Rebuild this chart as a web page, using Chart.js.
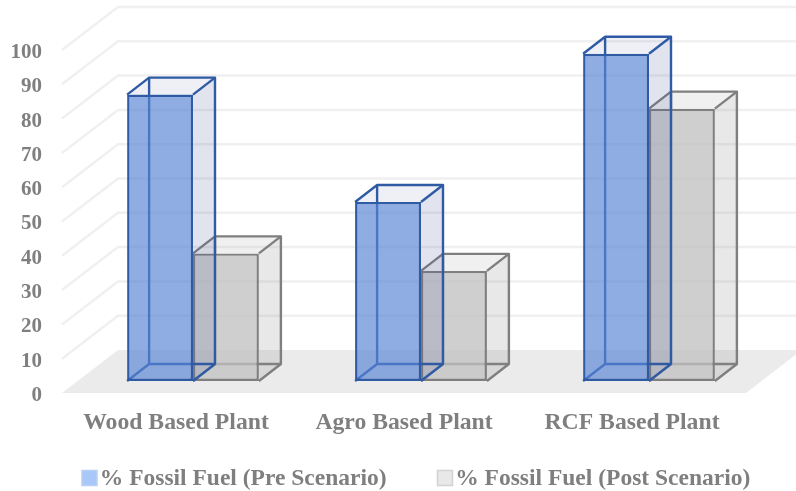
<!DOCTYPE html>
<html>
<head>
<meta charset="utf-8">
<style>html,body{margin:0;padding:0;background:#fff}canvas{display:block}</style>
<script src="https://cdn.jsdelivr.net/npm/chart.js@4/dist/chart.umd.js"></script>
</head>
<body>
<canvas id="c" width="796" height="491"></canvas>
<script>
const categories = ['Wood Based Plant', 'Agro Based Plant', 'RCF Based Plant'];
const preScenario = [83.5, 52.2, 95.4];
const postScenario = [37.2, 32.1, 79.4];
const seriesNames = ['% Fossil Fuel (Pre Scenario)', '% Fossil Fuel (Post Scenario)'];

const SERIF = '"Liberation Serif", serif';
const TICK_FONT = {family: SERIF, size: 21, weight: 'bold'};
const LABEL_FONT = {family: SERIF, size: 23.7, weight: 'bold'};
const LEGEND_FONT = {family: SERIF, size: 23.5, weight: 'bold'};
const INK = '#7f7f7f';
const WALL = {dx: 56, dy: -43};   // depth of the floor and walls
const INSET = {dx: 17, dy: -12};  // how far the bars sit behind the front edge
const BOX = {dx: 22, dy: -17};    // depth of each bar
const EDGE_WIDTH = 2.4;

const faces = [
  {side: 'rgba(70,90,150,0.16)', top: 'rgba(70,90,150,0.09)', edge: '#2f5ba5', swatch: '#a9c8fa', swatchEdge: '#b9d0f5'},
  {side: 'rgba(140,140,140,0.2)', top: 'rgba(140,140,140,0.13)', edge: '#7f7f7f', swatch: '#e8e8e8', swatchEdge: '#d2d2d2'}
];

function poly(ctx, pts, fill, stroke, lw) {
  ctx.beginPath();
  pts.forEach((p, i) => i ? ctx.lineTo(p[0], p[1]) : ctx.moveTo(p[0], p[1]));
  if (fill) { ctx.closePath(); ctx.fillStyle = fill; ctx.fill(); }
  if (stroke) { ctx.strokeStyle = stroke; ctx.lineWidth = lw; ctx.lineJoin = 'round'; ctx.stroke(); }
}

// Perspective room behind the bars: floor plus the gridlines on both walls.
const room = {
  id: 'room',
  beforeDatasetsDraw(chart) {
    const {ctx, chartArea: a, scales: {y}} = chart;
    const y0 = y.getPixelForValue(0);
    poly(ctx, [[a.left, y0], [a.right, y0], [a.right + WALL.dx, y0 + WALL.dy], [a.left + WALL.dx, y0 + WALL.dy]], '#ebebeb');
    y.ticks.forEach(t => {
      if (t.value === 0) return;
      const p = y.getPixelForValue(t.value);
      ctx.beginPath();
      ctx.moveTo(a.left, p);
      ctx.lineTo(a.left + WALL.dx, p + WALL.dy);
      ctx.lineTo(chart.width + 10, p + WALL.dy);
      ctx.strokeStyle = '#f0f0f0';
      ctx.lineWidth = 2.5;
      ctx.stroke();
    });
  }
};

// Extrudes each library-drawn bar into a box: hidden edges go in first, visible faces last.
const boxes = {
  id: 'boxes',
  beforeDatasetDraw(chart, args) {
    const {ctx} = chart;
    const f = faces[args.index];
    ctx.save();
    ctx.translate(INSET.dx, INSET.dy);
    chart.getDatasetMeta(args.index).data.forEach(b => {
      const l = b.x - b.width / 2, r = b.x + b.width / 2;
      const bx = l + BOX.dx, by = b.base + BOX.dy, ty = b.y + BOX.dy;
      poly(ctx, [[bx, ty], [bx, by], [r + BOX.dx, by]], null, f.edge, EDGE_WIDTH);
      poly(ctx, [[l, b.base], [bx, by]], null, f.edge, EDGE_WIDTH);
    });
  },
  afterDatasetDraw(chart, args) {
    const {ctx} = chart;
    const f = faces[args.index];
    chart.getDatasetMeta(args.index).data.forEach(b => {
      const l = b.x - b.width / 2, r = b.x + b.width / 2;
      const rb = r + BOX.dx, by = b.base + BOX.dy, ty = b.y + BOX.dy;
      poly(ctx, [[r, b.y], [rb, ty], [rb, by], [r, b.base]], f.side);
      poly(ctx, [[l, b.y], [l + BOX.dx, ty], [rb, ty], [r, b.y]], f.top);
      poly(ctx, [[l, b.y], [l + BOX.dx, ty], [rb, ty], [rb, by], [r, b.base]], null, f.edge, EDGE_WIDTH);
      poly(ctx, [[r, b.y], [rb, ty]], null, f.edge, EDGE_WIDTH);
    });
    ctx.restore();
  }
};

// Places the legend row and paints its square markers.
const LEGEND_SHIFT = 31;
const legendRow = {
  id: 'legendRow',
  beforeDraw(chart) {
    const lg = chart.legend;
    if (!lg.$placed) {
      lg.left += LEGEND_SHIFT; lg.right += LEGEND_SHIFT;
      lg.top = 416; lg.bottom = 491;
      lg.$placed = true;
    }
  },
  afterDraw(chart) {
    const {ctx, legend: lg} = chart;
    lg.legendHitBoxes.forEach((h, i) => {
      ctx.fillStyle = faces[i].swatch;
      ctx.strokeStyle = faces[i].swatchEdge;
      ctx.lineWidth = 1.5;
      ctx.fillRect(h.left + LEGEND_SHIFT, 470.5, 15, 15);
      ctx.strokeRect(h.left + LEGEND_SHIFT, 470.5, 15, 15);
    });
  }
};

new Chart(document.getElementById('c'), {
  type: 'bar',
  data: {
    labels: categories,
    datasets: [
      {label: seriesNames[0], data: preScenario, backgroundColor: 'rgba(88,133,213,0.67)', borderColor: faces[0].edge, borderWidth: EDGE_WIDTH, borderSkipped: false},
      {label: seriesNames[1], data: postScenario, backgroundColor: 'rgba(193,193,193,0.77)', borderColor: faces[1].edge, borderWidth: EDGE_WIDTH, borderSkipped: false}
    ]
  },
  plugins: [room, boxes, legendRow],
  options: {
    responsive: false,
    animation: false,
    events: [],
    datasets: {bar: {categoryPercentage: 0.578, barPercentage: 1, clip: false}},
    layout: {padding: {top: 50, right: 0, left: 0, bottom: 0}},
    scales: {
      x: {
        offset: true,
        grid: {display: false},
        border: {display: false},
        ticks: {font: LABEL_FONT, color: INK, padding: 8, maxRotation: 0},
        afterFit(s) { s.height = 58; }
      },
      y: {
        min: 0, max: 100,
        grid: {display: false},
        border: {display: false},
        ticks: {stepSize: 10, font: TICK_FONT, color: INK, padding: 12, labelOffset: 2.5},
        afterFit(s) { s.width = 62; }
      },
      // Empty axis that keeps the plot clear of the wall's right-hand overhang.
      rightMargin: {
        position: 'right',
        grid: {display: false},
        border: {display: false},
        ticks: {display: false},
        afterFit(s) { s.width = 50; }
      }
    },
    plugins: {
      tooltip: {enabled: false},
      legend: {
        position: 'bottom',
        align: 'start',
        maxHeight: 40,
        labels: {
          font: LEGEND_FONT,
          color: INK,
          boxWidth: 6,
          padding: 51,
          generateLabels(chart) {
            return chart.data.datasets.map((d, i) => ({text: d.label, datasetIndex: i, fontColor: INK, fillStyle: 'transparent', strokeStyle: 'transparent', lineWidth: 0}));
          }
        }
      }
    }
  }
});
</script>
</body>
</html>
